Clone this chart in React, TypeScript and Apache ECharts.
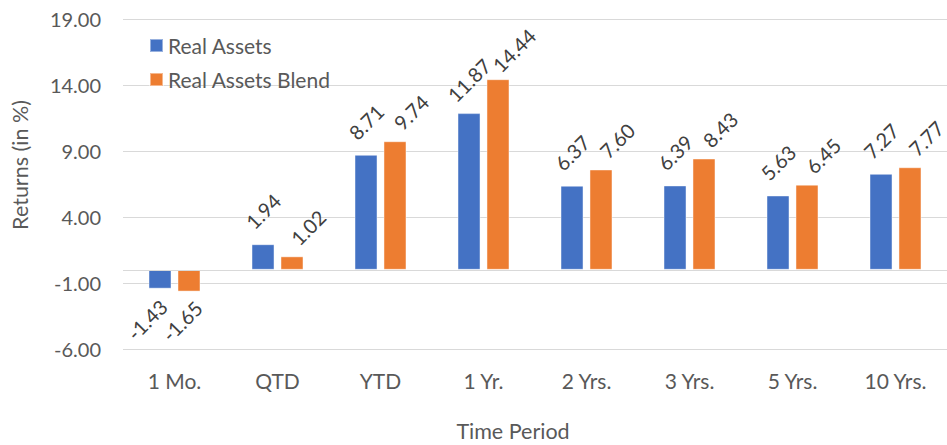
import React, { useEffect, useRef } from "react";
import * as echarts from "echarts";

const categories = ["1 Mo.", "QTD", "YTD", "1 Yr.", "2 Yrs.", "3 Yrs.", "5 Yrs.", "10 Yrs."];
const realAssets = [-1.43, 1.94, 8.71, 11.87, 6.37, 6.39, 5.63, 7.27];
const realAssetsBlend = [-1.65, 1.02, 9.74, 14.44, 7.6, 8.43, 6.45, 7.77];
const seriesNames = ["Real Assets", "Real Assets Blend"];
const yMin = -6;
const yMax = 19;
const yStep = 5;

const FONT = "Lato, 'Open Sans', sans-serif";
const TEXT = "#595959";
const LABEL = "#404040";
const GRID = "#d9d9d9";

// label offsets are rotated with the label (rotate 45deg), so convert screen offsets
function rotOffset(dx: number, dy: number) {
  const c = Math.SQRT1_2;
  return [c * (dx - dy), c * (dx + dy)];
}

function toData(values: number[], pos: [number, number], neg: [number, number]) {
  return values.map((v) => ({
    value: v,
    label:
      v < 0
        ? { position: "bottom", distance: 0, offset: rotOffset(neg[0], neg[1]) }
        : { position: "top", distance: 0, offset: rotOffset(pos[0], pos[1]) },
  }));
}

export default function App() {
  const ref = useRef<HTMLDivElement>(null);
  useEffect(() => {
    if (!ref.current) return;
    const chart = echarts.init(ref.current, undefined, { renderer: "svg" });
    const label = {
      show: true,
      rotate: 45,
      align: "center",
      verticalAlign: "middle",
      color: LABEL,
      fontSize: 20,
      fontFamily: FONT,
      formatter: (p: any) => Number(p.value).toFixed(2),
    };
    chart.setOption({
      animation: false,
      textStyle: { fontFamily: FONT },
      grid: { left: 123, top: 19, width: 827, height: 330, containLabel: false },
      legend: {
        orient: "vertical",
        left: 144,
        top: 30,
        itemWidth: 13,
        itemHeight: 13,
        itemGap: 13,
        icon: "rect",
        textStyle: { color: TEXT, fontSize: 21, fontFamily: FONT },
        data: seriesNames,
      },
      xAxis: {
        type: "category",
        data: categories,
        axisLine: { show: false, onZero: false },
        axisTick: { show: false },
        axisLabel: { color: TEXT, fontSize: 21, fontFamily: FONT, margin: 21 },
        splitLine: { show: false },
      },
      yAxis: {
        type: "value",
        min: yMin,
        max: yMax,
        interval: yStep,
        axisLine: { show: false },
        axisTick: { show: false },
        axisLabel: {
          color: TEXT,
          fontSize: 20,
          fontFamily: FONT,
          margin: 22,
          formatter: (v: number) => v.toFixed(2),
        },
        splitLine: { lineStyle: { color: GRID, width: 1 } },
      },
      graphic: [
        {
          type: "text",
          x: 20,
          y: 165,
          rotation: Math.PI / 2,
          style: {
            text: "Returns (in %)",
            fill: TEXT,
            fontSize: 21.5,
            fontFamily: FONT,
            align: "center",
            verticalAlign: "middle",
          },
        },
        {
          type: "text",
          x: 513,
          y: 431,
          style: {
            text: "Time Period",
            fill: TEXT,
            fontSize: 21.5,
            fontFamily: FONT,
            align: "center",
            verticalAlign: "middle",
          },
        },
      ],
      series: [
        {
          name: seriesNames[0],
          type: "bar",
          data: toData(realAssets, [0, -33], [-13, 31]),
          barWidth: 23,
          barGap: "26%",
          itemStyle: { color: "#4472C4", borderColor: "rgba(255,255,255,0.45)", borderWidth: 1 },
          label,
          markLine: {
            silent: true,
            symbol: ["none", "none"],
            label: { show: false },
            lineStyle: { color: GRID, type: "solid", width: 1 },
            data: [{ yAxis: 0 }],
          },
        },
        {
          name: seriesNames[1],
          type: "bar",
          data: toData(realAssetsBlend, [16, -29], [-7, 29.5]),
          barWidth: 23,
          barGap: "26%",
          itemStyle: { color: "#ED7D31", borderColor: "rgba(255,255,255,0.45)", borderWidth: 1 },
          label,
        },
      ],
    });
    return () => chart.dispose();
  }, []);
  return (
    <div style={{ position: "fixed", left: 0, top: 0, width: 947, height: 445, overflow: "hidden", background: "#fff" }}>
      <div ref={ref} style={{ width: 947, height: 445 }} />
    </div>
  );
}
